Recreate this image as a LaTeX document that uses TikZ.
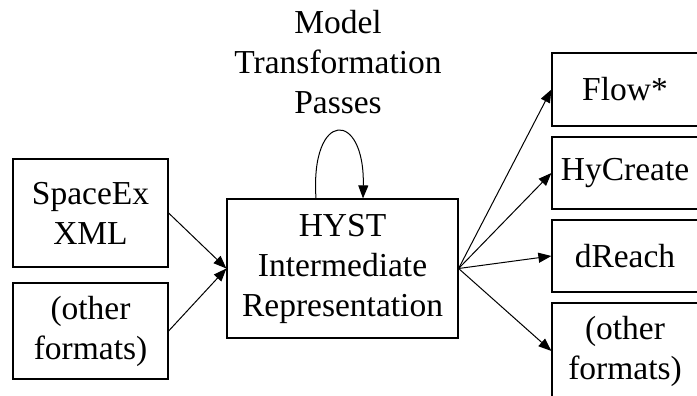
\documentclass[tikz,border=0pt]{standalone}
\usepackage{fontspec}
\setmainfont{Liberation Serif}
\usetikzlibrary{arrows.meta}

\tikzset{
  box/.style={draw,line width=1.2pt,inner sep=0pt,align=center,font=\fontsize{33.5}{40}\selectfont},
  arr/.style={line width=1pt,-{Triangle[length=13pt,width=10pt]}}
}

\begin{document}
\begin{tikzpicture}[x=1pt,y=-1pt]
\useasboundingbox (0,0) rectangle (697,396);

\node[box,minimum width=155pt,minimum height=108pt] (spx) at (90.5,213) {SpaceEx\\XML};
\node[box,minimum width=155pt,minimum height=96pt] (inoth) at (90.5,331) {(other\\formats)};
\node[box,minimum width=231pt,minimum height=139pt] (hyst) at (342.5,268.5) {HYST\\Intermediate\\Representation};

\node[box,minimum width=146pt,minimum height=73pt] (flow) at (625,89.5) {Flow*};
\node[box,minimum width=146pt,minimum height=72pt] (hyc) at (625,173) {HyCreate};
\node[box,minimum width=146pt,minimum height=72pt] (dr) at (625,256) {dReach};
\node[box,minimum width=146pt,minimum height=96pt] (outoth) at (625,351) {(other\\formats)};

\node[align=center,font=\fontsize{33.5}{40}\selectfont] (passes) at (338,62) {Model\\Transformation\\Passes};

\draw[arr] (spx.east) -- (hyst.west);
\draw[arr] (inoth.east) -- (hyst.west);
\draw[arr] ([xshift=-26.5pt]hyst.north) .. controls +(-6,-89) and +(2,-89) .. ([xshift=20.5pt]hyst.north);

\draw[arr] (hyst.east) -- (flow.west);
\draw[arr] (hyst.east) -- (hyc.west);
\draw[arr] (hyst.east) -- (dr.west);
\draw[arr] (hyst.east) -- (outoth.west);
\end{tikzpicture}
\end{document}
